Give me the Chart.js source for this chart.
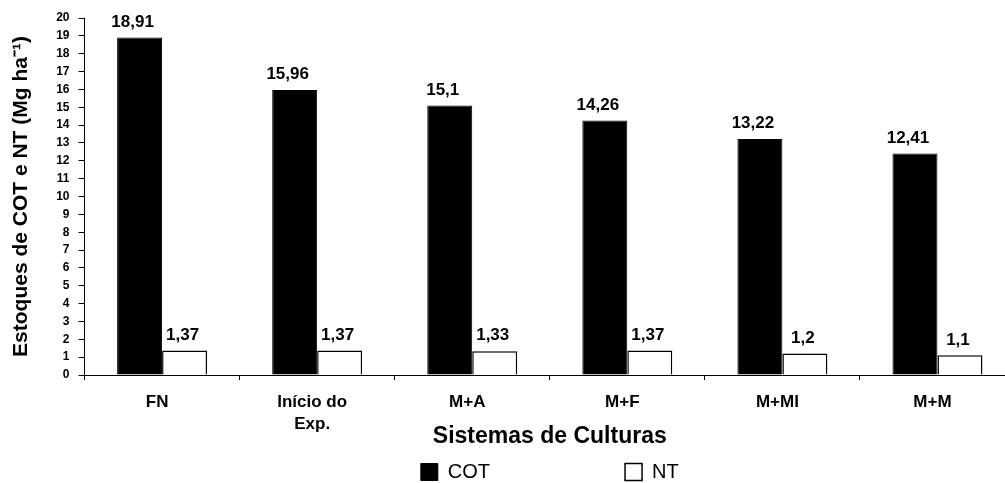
<!DOCTYPE html>
<html lang="pt">
<head>
    <meta charset="UTF-8">
    <title>Estoques de COT e NT</title>
    <style>
        html, body { margin: 0; padding: 0; overflow: hidden; background: #fff; }
        #wrap { width: 1015px; height: 492px; }
    </style>
</head>
<body>
    <div id="wrap"><canvas id="barChart"></canvas></div>
    <script src="https://cdn.jsdelivr.net/npm/chart.js"></script>
    <script>
        // Data
        const sistemas = ['FN', ['Início do', 'Exp.'], 'M+A', 'M+F', 'M+MI', 'M+M'];
        const cot = [18.91, 15.96, 15.1, 14.26, 13.22, 12.41];
        const nt = [1.37, 1.37, 1.33, 1.37, 1.2, 1.1];

        const fontFamily = 'Arial, "Liberation Sans", sans-serif';
        Chart.defaults.font.family = fontFamily;
        Chart.defaults.color = '#000';

        // Value labels above each bar, decimal comma
        const valueLabels = {
            id: 'valueLabels',
            afterDatasetsDraw(chart) {
                const ctx = chart.ctx;
                ctx.save();
                ctx.font = 'bold 17px ' + fontFamily;
                ctx.fillStyle = '#000';
                ctx.textAlign = 'center';
                ctx.textBaseline = 'bottom';
                chart.data.datasets.forEach((ds, i) => {
                    const shift = i === 0 ? -7 : -2;
                    chart.getDatasetMeta(i).data.forEach((bar, j) => {
                        const txt = String(ds.data[j]).replace('.', ',');
                        ctx.fillText(txt, bar.x + shift, bar.y - 7);
                    });
                });
                ctx.restore();
            }
        };

        const chartContext = document.getElementById('barChart').getContext('2d');
        const barChart = new Chart(chartContext, {
            type: 'bar',
            data: {
                labels: sistemas,
                datasets: [
                    {
                        label: 'COT',
                        data: cot,
                        backgroundColor: '#000',
                        borderColor: '#000',
                        borderWidth: 1
                    },
                    {
                        label: 'NT',
                        data: nt,
                        backgroundColor: '#fff',
                        borderColor: '#000',
                        borderWidth: 1.5
                    }
                ]
            },
            options: {
                responsive: true,
                maintainAspectRatio: false,
                animation: false,
                categoryPercentage: 0.58,
                barPercentage: 1.0,
                layout: { padding: { top: 18, left: 0, right: 0, bottom: 0 } },
                scales: {
                    x: {
                        grid: { drawOnChartArea: false, tickLength: 5, color: '#000' },
                        border: { color: '#000', width: 1 },
                        ticks: {
                            padding: 11,
                            labelOffset: -5,
                            font: { size: 17, weight: 'bold', lineHeight: 1.3 }
                        },
                        title: {
                            display: true,
                            text: 'Sistemas de Culturas',
                            font: { size: 23, weight: 'bold' },
                            padding: { top: -23, bottom: 0 }
                        }
                    },
                    y: {
                        min: 0,
                        max: 20,
                        grid: { drawOnChartArea: false, tickLength: 6, color: '#000' },
                        border: { color: '#000', width: 1 },
                        ticks: {
                            stepSize: 1,
                            autoSkip: false,
                            padding: 9,
                            font: { size: 12, weight: 'bold' }
                        },
                        title: {
                            display: true,
                            text: 'Estoques de COT e NT (Mg ha⁻¹)',
                            font: { size: 21, weight: 'bold' },
                            padding: { top: 9, bottom: 13 }
                        }
                    }
                },
                plugins: {
                    tooltip: { enabled: false },
                    legend: {
                        position: 'bottom',
                        fullSize: false,
                        // empty title with negative padding keeps the wide item gap from pushing the row down
                        title: {
                            display: true,
                            text: '',
                            font: { size: 1 },
                            padding: { top: -125, bottom: 0 }
                        },
                        labels: {
                            boxWidth: 17,
                            boxHeight: 17,
                            padding: 135,
                            font: { size: 20 }
                        }
                    }
                }
            },
            plugins: [valueLabels]
        });
    </script>
</body>
</html>
